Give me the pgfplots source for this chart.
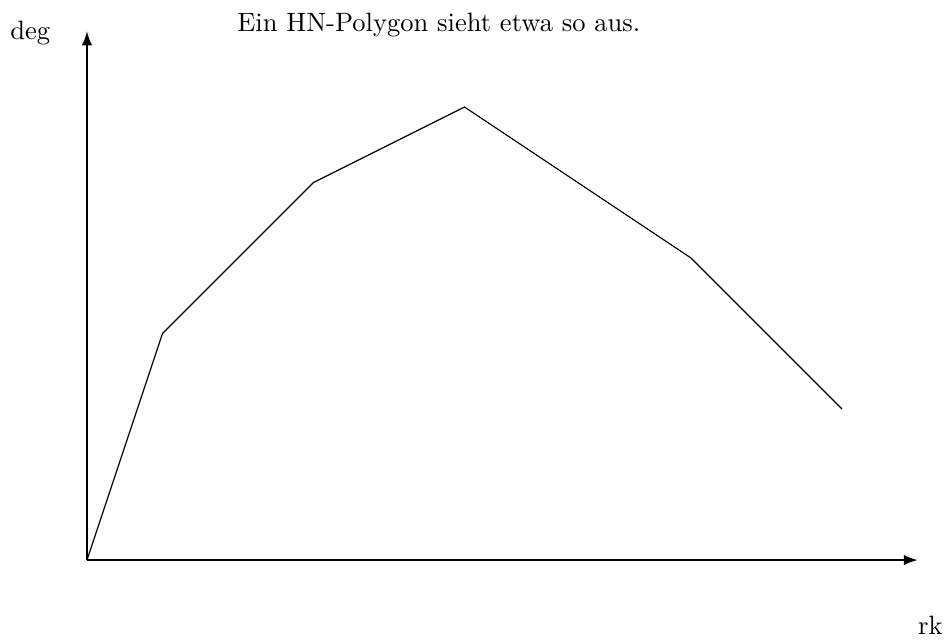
\documentclass[border=0pt]{standalone}
\usepackage{pgfplots}
\pgfplotsset{compat=1.18}
\begin{document}
\begin{tikzpicture}
\begin{axis}[
  x=1cm, y=1cm,
  xmin=0, xmax=11, ymin=0, ymax=7,
  axis lines=left,
  axis line style={line width=0.8pt, -latex},
  ticks=none,
  clip=false,
]
% Newton polygon vertices
\addplot[black, line width=0.45pt] coordinates {
  (0,0) (1,3) (3,5) (5,6) (8,4) (10,2)
};
\node[inner sep=0pt] at (axis cs:-0.75,6.98) {deg};
\node[inner sep=0pt] at (axis cs:11.17,-0.86) {rk};
\node[inner sep=0pt] at (axis cs:4.66,7.08) {Ein HN-Polygon sieht etwa so aus.};
\path (axis cs:-1.152,-1.046) rectangle (axis cs:11.39,7.417);
\end{axis}
\end{tikzpicture}
\end{document}
